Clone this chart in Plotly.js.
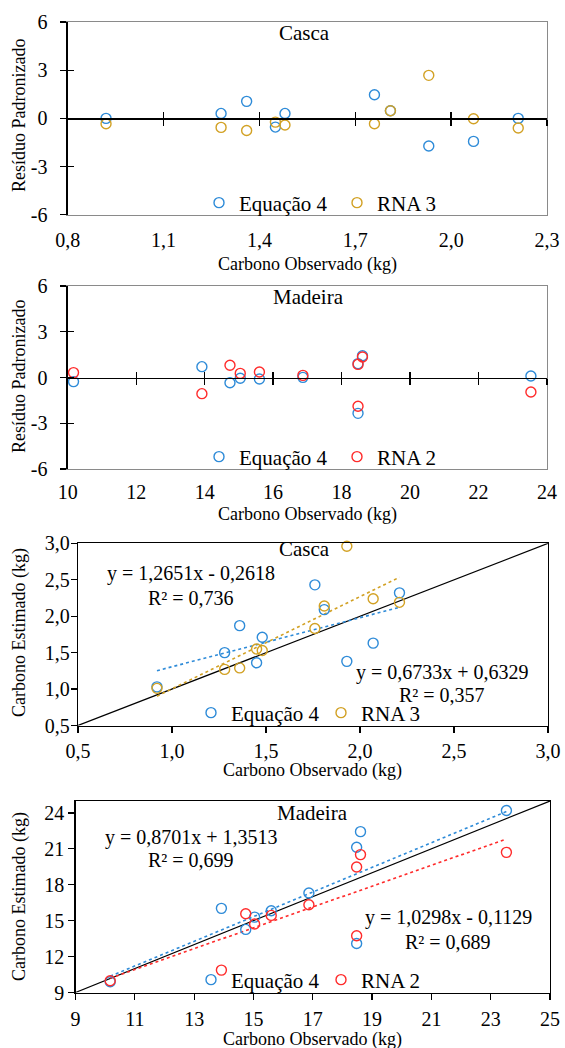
<!DOCTYPE html>
<html>
<head>
<meta charset="utf-8">
<script src="https://cdn.plot.ly/plotly-3.0.1.min.js"></script>
<style>html,body{margin:0;padding:0;background:#fff;}</style>
</head>
<body>
<div id="chart" style="width:565px;height:1048px;"></div>
<script>
// ---------------- DATA ----------------
// Casca (bark)
const cascaObs     = [0.92, 1.28, 1.36, 1.45, 1.48, 1.76, 1.81, 1.93, 2.07, 2.21];
const cascaResEq   = [0.00, 0.31, 1.06, -0.54, 0.31, 1.47, 0.48, -1.72, -1.43, 0.00];
const cascaResRna  = [-0.33, -0.56, -0.75, -0.23, -0.41, -0.33, 0.48, 2.68, -0.02, -0.60];
const cascaEstEq   = [1.03, 1.50, 1.87, 1.36, 1.71, 2.43, 2.09, 1.38, 1.63, 2.32];
const cascaEstRna  = [1.01, 1.27, 1.29, 1.55, 1.53, 1.83, 2.14, 2.96, 2.24, 2.19];
// Madeira (wood)
const madeiraObs    = [10.17, 13.92, 14.74, 15.04, 15.60, 16.87, 18.48, 18.48, 18.61, 23.53];
const madeiraResEq  = [-0.27, 0.71, -0.34, -0.05, -0.10, 0.01, 0.91, -2.35, 1.43, 0.10];
const madeiraResRna = [0.32, -1.06, 0.80, 0.27, 0.36, 0.14, 0.86, -1.89, 1.34, -0.95];
const madeiraEstEq  = [9.90, 16.03, 14.27, 15.30, 15.83, 17.31, 21.13, 13.10, 22.44, 24.20];
const madeiraEstRna = [9.98, 10.87, 15.58, 14.72, 15.44, 16.33, 19.48, 13.74, 20.52, 20.71];
// Trend line coefficients [slope, intercept] and labels
const cascaFitEq    = [0.6733, 0.6329];
const cascaFitRna   = [1.2651, -0.2618];
const madeiraFitEq  = [1.0298, -0.1129];
const madeiraFitRna = [0.8701, 1.3513];
const cascaEqLabelRna   = ['y = 1,2651x - 0,2618', 'R² = 0,736'];
const cascaEqLabelEq    = ['y = 0,6733x + 0,6329', 'R² = 0,357'];
const madeiraEqLabelRna = ['y = 0,8701x + 1,3513', 'R² = 0,699'];
const madeiraEqLabelEq  = ['y = 1,0298x - 0,1129', 'R² = 0,689'];
// Axis ranges and tick labels
const resRange      = [-6, 6];
const resTickVals   = [-6, -3, 0, 3, 6];
const resTickText   = ['-6', '-3', '0', '3', '6'];
const cascaResX     = [0.8, 2.3];
const madeiraResX   = [10, 24];
const cascaEstRange = [0.5, 3.0];
const madeiraXRange = [9, 25];
const madeiraYRange = [9, 25];
const seriesNames   = ['Equação 4', 'RNA 3', 'RNA 2'];
const panelTitles   = ['Casca', 'Madeira', 'Casca', 'Madeira'];
const xTitle = 'Carbono Observado (kg)';
const yTitleRes = 'Resíduo Padronizado';
const yTitleEst = 'Carbono Estimado (kg)';

// ---------------- STYLE / LAYOUT ----------------
const W = 565, H = 1048;
const fx = p => p / W;
const fy = p => 1 - p / H;
const FONT = '"Liberation Serif", "Times New Roman", serif';
const BLUE = '#2E8BD8', GOLD = '#D2A124', RED = '#FF2B2B';
const tickFont = {family: FONT, size: 20, color: '#000'};

const P1 = {l: 67.7, r: 547, t: 22, b: 214.8};
const P2 = {l: 67.7, r: 547, t: 286, b: 469};
const P3 = {l: 78, r: 548, t: 543.3, b: 725.5};
const P4 = {l: 75.5, r: 550, t: 801, b: 992.5};
const dx = P => [fx(P.l), fx(P.r)];
const dy = P => [fy(P.b), fy(P.t)];

function markerTrace(x, y, name, color, xa, ya, leg, showleg) {
  return {x: x, y: y, name: name, type: 'scatter', mode: 'markers',
    xaxis: xa, yaxis: ya, legend: leg, showlegend: showleg,
    marker: {symbol: 'circle-open', size: 10, color: color, line: {width: 1.4, color: color}},
    cliponaxis: false, hoverinfo: 'skip'};
}
function fitTrace(obs, coef, color, xa, ya) {
  const x0 = Math.min(...obs), x1 = Math.max(...obs);
  return {x: [x0, x1], y: [coef[0] * x0 + coef[1], coef[0] * x1 + coef[1]],
    type: 'scatter', mode: 'lines', xaxis: xa, yaxis: ya, showlegend: false,
    line: {color: color, width: 1.6, dash: 'dot'}, hoverinfo: 'skip'};
}
function identityTrace(range, xa, ya) {
  return {x: range, y: range, type: 'scatter', mode: 'lines', xaxis: xa, yaxis: ya,
    showlegend: false, line: {color: '#000', width: 1.2}, hoverinfo: 'skip'};
}
function dummy(xa, ya) {
  return {x: [], y: [], type: 'scatter', mode: 'markers', xaxis: xa, yaxis: ya, showlegend: false, hoverinfo: 'skip'};
}

const data = [
  // panel 1
  markerTrace(cascaObs, cascaResEq, seriesNames[0], BLUE, 'x', 'y', 'legend', true),
  markerTrace(cascaObs, cascaResRna, seriesNames[1], GOLD, 'x', 'y', 'legend', true),
  // panel 2
  markerTrace(madeiraObs, madeiraResEq, seriesNames[0], BLUE, 'x2', 'y2', 'legend2', true),
  markerTrace(madeiraObs, madeiraResRna, seriesNames[2], RED, 'x2', 'y2', 'legend2', true),
  // panel 3
  identityTrace(cascaEstRange, 'x3', 'y3'),
  fitTrace(cascaObs, cascaFitEq, BLUE, 'x3', 'y3'),
  fitTrace(cascaObs, cascaFitRna, GOLD, 'x3', 'y3'),
  markerTrace(cascaObs, cascaEstEq, seriesNames[0], BLUE, 'x3', 'y3', 'legend3', true),
  markerTrace(cascaObs, cascaEstRna, seriesNames[1], GOLD, 'x3', 'y3', 'legend3', true),
  // panel 4
  identityTrace(madeiraXRange, 'x4', 'y4'),
  fitTrace(madeiraObs, madeiraFitEq, BLUE, 'x4', 'y4'),
  fitTrace(madeiraObs, madeiraFitRna, RED, 'x4', 'y4'),
  markerTrace(madeiraObs, madeiraEstEq, seriesNames[0], BLUE, 'x4', 'y4', 'legend4', true),
  markerTrace(madeiraObs, madeiraEstRna, seriesNames[2], RED, 'x4', 'y4', 'legend4', true),
  // overlay axes for crossing ticks
  dummy('x5', 'y5'), dummy('x6', 'y5'), dummy('x7', 'y6'), dummy('x8', 'y6')
];

const GRAY = '#8a8a8a';
function resX(P, range, dtick, anchor, standoff, fmt) {
  return {domain: dx(P), range: range, tick0: range[0], dtick: dtick, tickformat: fmt,
    anchor: anchor, showline: true, linecolor: GRAY, linewidth: 1.3, mirror: true,
    ticks: '', showgrid: false, zeroline: false, tickfont: tickFont, ticklabelstandoff: standoff, fixedrange: true};
}
function resY(P, anchor) {
  return {domain: dy(P), range: resRange, tickvals: resTickVals, ticktext: resTickText, anchor: anchor,
    showline: true, linecolor: GRAY, linewidth: 1.3, mirror: true, ticks: 'outside', ticklen: 6,
    tickcolor: '#000', tickwidth: 1.3, showgrid: false, zeroline: false, tickfont: tickFont,
    ticklabelstandoff: 9, fixedrange: true};
}
function zeroX(P, range, dtick, over, tickdir) {
  return {overlaying: over, anchor: 'free', position: fy((P.t + P.b) / 2), range: range,
    tick0: range[0], dtick: dtick, ticks: tickdir, ticklen: 6, tickwidth: 1.3, tickcolor: '#000',
    showline: true, linecolor: '#000', linewidth: 1.5, showticklabels: false, showgrid: false,
    zeroline: false, side: 'bottom', fixedrange: true};
}
function innerY(over, anchor) {
  return {overlaying: over, anchor: anchor, side: 'left', range: resRange, tickvals: resTickVals,
    ticks: 'inside', ticklen: 6, tickwidth: 1.3, tickcolor: '#000', showline: true, linecolor: '#000',
    linewidth: 1.5, showticklabels: false, showgrid: false, zeroline: false, fixedrange: true};
}
function estAxis(domain, range, dtick, anchor, standoff, fmt) {
  return {domain: domain, range: range, tick0: range[0], dtick: dtick, tickformat: fmt, anchor: anchor,
    showline: true, linecolor: '#000', linewidth: 1.3, mirror: true, ticks: 'outside', ticklen: 6,
    tickwidth: 1.2, tickcolor: '#000', showgrid: false, zeroline: false, tickfont: tickFont,
    ticklabelstandoff: standoff, fixedrange: true};
}

function legendAt(px, py, ew) {
  return {x: fx(px), y: fy(py), xanchor: 'left', yanchor: 'middle', orientation: 'h',
    bgcolor: 'rgba(0,0,0,0)', borderwidth: 0, font: {family: FONT, size: 21, color: '#000'},
    entrywidth: ew, entrywidthmode: 'pixels', itemclick: false, itemdoubleclick: false,
    tracegroupgap: 0, traceorder: 'normal'};
}

function ann(text, px, py, size, angle) {
  return {text: text, x: fx(px), y: fy(py), xref: 'paper', yref: 'paper', xanchor: 'center',
    yanchor: 'middle', showarrow: false, textangle: angle || 0,
    font: {family: FONT, size: size, color: '#000'}};
}

const annotations = [
  ann(panelTitles[0], 304, 33, 21), ann(panelTitles[1], 308, 297, 21),
  ann(panelTitles[2], 304, 549, 21), ann(panelTitles[3], 312, 813, 21),
  ann(xTitle, 307, 264, 18), ann(xTitle, 307, 514, 18),
  ann(xTitle, 312, 770, 18), ann(xTitle, 312, 1039, 18),
  ann(yTitleRes, 19, 116, 18, -90), ann(yTitleRes, 19, 377, 18, -90),
  ann(yTitleEst, 19, 633, 18, -90), ann(yTitleEst, 19, 897, 18, -90),
  ann(cascaEqLabelRna[0], 191, 573, 20), ann(cascaEqLabelRna[1], 191, 598, 20),
  ann(cascaEqLabelEq[0], 442, 672, 20), ann(cascaEqLabelEq[1], 442, 695, 20),
  ann(madeiraEqLabelRna[0], 191, 837, 20), ann(madeiraEqLabelRna[1], 191, 860, 20),
  ann(madeiraEqLabelEq[0], 448, 917, 20), ann(madeiraEqLabelEq[1], 448, 942, 20)
];

const layout = {
  width: W, height: H, margin: {l: 0, r: 0, t: 0, b: 0},
  paper_bgcolor: '#fff', plot_bgcolor: 'rgba(0,0,0,0)',
  separators: ',.', showlegend: true,
  font: {family: FONT, color: '#000'},
  xaxis: resX(P1, cascaResX, 0.3, 'y', 7, '.1f'),
  yaxis: resY(P1, 'x'),
  xaxis2: resX(P2, madeiraResX, 2, 'y2', 5, 'd'),
  yaxis2: resY(P2, 'x2'),
  xaxis3: estAxis(dx(P3), cascaEstRange, 0.5, 'y3', 1, '.1f'),
  yaxis3: estAxis(dy(P3), cascaEstRange, 0.5, 'x3', -3, '.1f'),
  xaxis4: estAxis(dx(P4), madeiraXRange, 2, 'y4', 2, 'd'),
  yaxis4: estAxis(dy(P4), madeiraYRange, 3, 'x4', 0, 'd'),
  xaxis5: zeroX(P1, cascaResX, 0.3, 'x', 'outside'),
  xaxis6: zeroX(P1, cascaResX, 0.3, 'x', 'inside'),
  xaxis7: zeroX(P2, madeiraResX, 2, 'x2', 'outside'),
  xaxis8: zeroX(P2, madeiraResX, 2, 'x2', 'inside'),
  yaxis5: innerY('y', 'x'),
  yaxis6: innerY('y2', 'x2'),
  legend: legendAt(199, 203, 93),
  legend2: legendAt(199, 457, 93),
  legend3: legendAt(191, 713, 85),
  legend4: legendAt(191, 980, 85),
  annotations: annotations
};

Plotly.newPlot('chart', data, layout, {staticPlot: true, displayModeBar: false});
</script>
</body>
</html>
